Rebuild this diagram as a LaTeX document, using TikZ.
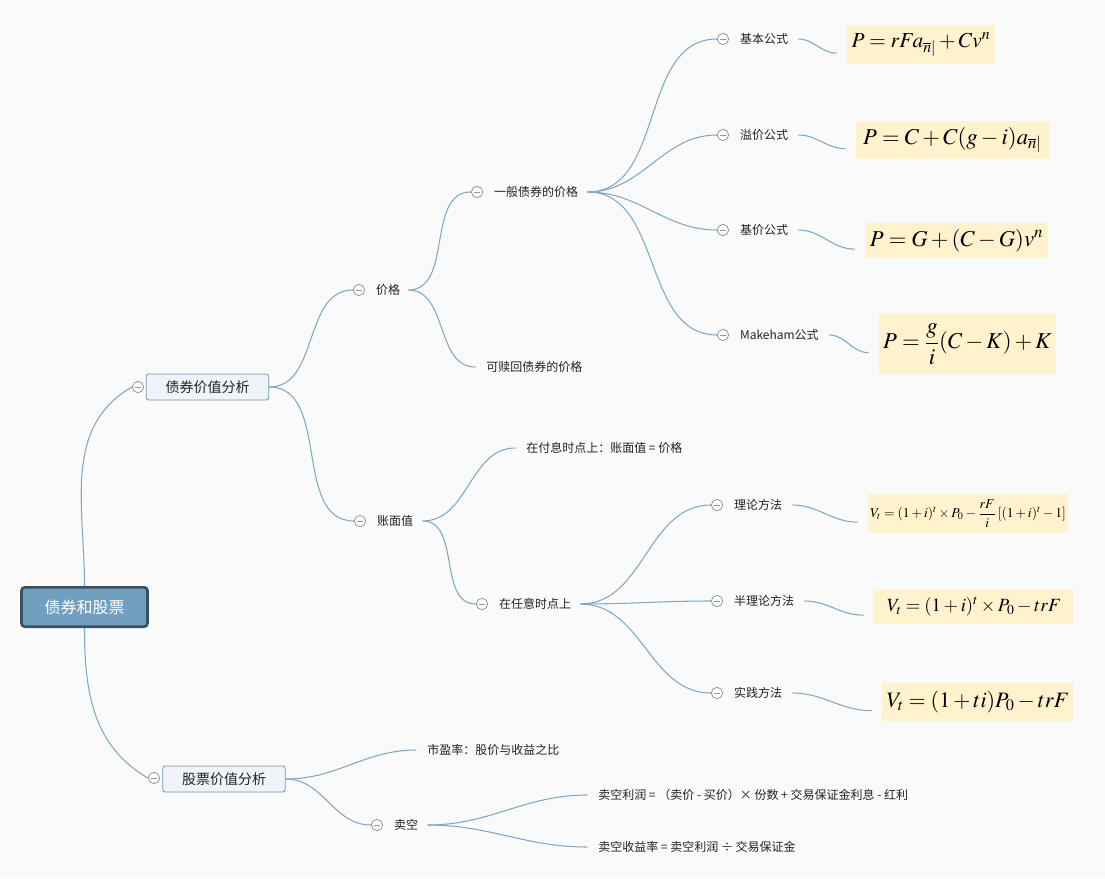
\documentclass[tikz,border=0pt]{standalone}
\usepackage{amsmath}
\usepackage{mathptmx}
\usepackage[no-math]{fontspec}
\newfontfamily\cjk{Noto Sans CJK SC}
\usepackage{tikz}
\usetikzlibrary{positioning}
\definecolor{paper}{RGB}{250,250,250}
\definecolor{linkblue}{RGB}{128,168,200}
\definecolor{rootfill}{RGB}{113,159,191}
\definecolor{rootedge}{RGB}{57,80,96}
\definecolor{topicfill}{RGB}{240,244,248}
\definecolor{topicedge}{RGB}{110,152,186}
\definecolor{formulabg}{RGB}{255,242,204}
\definecolor{inkgrey}{RGB}{34,34,34}
\definecolor{foldgrey}{RGB}{150,150,150}

\begin{document}
\begin{tikzpicture}[x=0.75pt, y=0.75pt,
    root/.style={
      rectangle, rounded corners=2.5pt, draw=rootedge, line width=2pt, fill=rootfill,
      minimum width=94.5pt, minimum height=29.5pt, text=white,
      font=\cjk\fontsize{12}{14}\selectfont
    },
    topic/.style={
      rectangle, rounded corners=2pt, draw=topicedge, line width=0.6pt, fill=topicfill,
      minimum width=92pt, minimum height=19.5pt, text=inkgrey,
      font=\cjk\fontsize{10.5}{12}\selectfont
    },
    fold/.style={
      circle, draw=foldgrey, line width=0.6pt, fill=white, minimum size=8.5pt, inner sep=0pt,
      path picture={\draw[foldgrey, line width=0.6pt]
        ([xshift=-2.6pt]path picture bounding box.center) -- ([xshift=2.6pt]path picture bounding box.center);}
    },
    leaf/.style={anchor=west, inner sep=0pt, text=inkgrey, font=\cjk\fontsize{9}{11}\selectfont},
    formula/.style={rectangle, fill=formulabg, inner sep=0pt, text=black, font=\fontsize{17}{20}\selectfont},
    link/.style={draw=linkblue, line width=0.8pt, out=0, in=180}
  ]
    \path[use as bounding box, fill=paper] (0,0) rectangle (1105,-878);

    % root and main topics
    \node[root] (root) at (84.5,-607) {债券和股票};
    \node[fold] (f-bond) at (138,-387) {};
    \node[topic] (bond) at (207.5,-387) {债券价值分析};
    \node[fold] (f-stock) at (154,-778) {};
    \node[topic] (stock) at (224,-779) {股票价值分析};
    \draw[link, out=90, in=210] (root.north) to (f-bond.west);
    \draw[link, out=-90, in=150] (root.south) to (f-stock.west);

    % bonds
    \node[fold] (f-price) at (359,-290) {};
    \node[leaf, right=8pt of f-price] (price) {价格};
    \node[fold] (f-book) at (360,-521) {};
    \node[leaf, right=8pt of f-book] (book) {账面值};
    \draw[link] (bond.east) to (f-price.west);
    \draw[link] (bond.east) to (f-book.west);

    \node[fold] (f-general) at (477,-192) {};
    \node[leaf, right=8pt of f-general] (general) {一般债券的价格};
    \node[leaf] (callable) at (486,-367) {可赎回债券的价格};
    \draw[link] ([xshift=6pt]price.east) to (f-general.west);
    \draw[link] ([xshift=6pt]price.east) to ([xshift=-8pt]callable.west);

    \node[leaf] (coupon) at (526,-448) {在付息时点上：账面值 = 价格};
    \node[fold] (f-anytime) at (482,-604) {};
    \node[leaf, right=8pt of f-anytime] (anytime) {在任意时点上};
    \draw[link] ([xshift=7pt]book.east) to ([xshift=-8pt]coupon.west);
    \draw[link] ([xshift=7pt]book.east) to (f-anytime.west);

    % price formulas
    \node[fold] (f-basic) at (723,-39) {};
    \node[leaf, right=8pt of f-basic] (basic) {基本公式};
    \node[fold] (f-premium) at (723,-135) {};
    \node[leaf, right=8pt of f-premium] (premium) {溢价公式};
    \node[fold] (f-base) at (723,-230) {};
    \node[leaf, right=8pt of f-base] (base) {基价公式};
    \node[fold] (f-makeham) at (723,-335) {};
    \node[leaf, right=8pt of f-makeham] (makeham) {Makeham公式};
    \draw[link] ([xshift=7pt]general.east) to (f-basic.west);
    \draw[link] ([xshift=7pt]general.east) to (f-premium.west);
    \draw[link] ([xshift=7pt]general.east) to (f-base.west);
    \draw[link] ([xshift=7pt]general.east) to (f-makeham.west);

    \node[formula, minimum width=111pt, minimum height=29pt, font=\fontsize{16}{19}\selectfont] (eq-basic) at (921,-44.5)
      {$P=rFa_{\overline{n}|}+Cv^n$};
    \node[formula, minimum width=145pt, minimum height=28.5pt] (eq-premium) at (952.5,-140)
      {$P=C+C(g-i)a_{\overline{n}|}$};
    \node[formula, minimum width=137pt, minimum height=26.25pt] (eq-base) at (956.5,-240.5)
      {$P=G+(C-G)v^n$};
    \node[formula, minimum width=133pt, minimum height=45pt] (eq-makeham) at (967.5,-344)
      {$P=\dfrac{g}{i}(C-K)+K$};
    \draw[link] ([xshift=7.5pt]basic.east) to ([xshift=-7.5pt,yshift=-6.5pt]eq-basic.west);
    \draw[link] ([xshift=7.5pt]premium.east) to ([xshift=-7.5pt,yshift=-6.5pt]eq-premium.west);
    \draw[link] ([xshift=7.5pt]base.east) to ([xshift=-7.5pt,yshift=-6.5pt]eq-base.west);
    \draw[link] ([xshift=7.5pt]makeham.east) to ([xshift=-7.5pt,yshift=-6.5pt]eq-makeham.west);

    % book value methods
    \node[fold] (f-theory) at (717,-505) {};
    \node[leaf, right=8pt of f-theory] (theory) {理论方法};
    \node[fold] (f-semi) at (717,-601) {};
    \node[leaf, right=8pt of f-semi] (semi) {半理论方法};
    \node[fold] (f-practice) at (717,-693) {};
    \node[leaf, right=8pt of f-practice] (practice) {实践方法};
    \draw[link] ([xshift=7pt]anytime.east) to (f-theory.west);
    \draw[link] ([xshift=7pt]anytime.east) to (f-semi.west);
    \draw[link] ([xshift=7pt]anytime.east) to (f-practice.west);

    \node[formula, minimum width=150pt, minimum height=29pt, font=\fontsize{10.2}{12}\selectfont] (eq-theory) at (968,-513.5)
      {$V_t=(1+i)^t\times P_0-\dfrac{rF}{i}\left[(1+i)^t-1\right]$};
    \node[formula, minimum width=150pt, minimum height=26.25pt, font=\fontsize{14}{17}\selectfont] (eq-semi) at (974,-606.5)
      {$V_t=(1+i)^t\times P_0-trF$};
    \node[formula, minimum width=144pt, minimum height=28.5pt, font=\fontsize{16.5}{19}\selectfont] (eq-practice) at (978,-702)
      {$V_t=(1+ti)P_0-trF$};
    \draw[link] ([xshift=7.5pt]theory.east) to ([xshift=-7.5pt,yshift=-6.5pt]eq-theory.west);
    \draw[link] ([xshift=7.5pt]semi.east) to ([xshift=-7.5pt,yshift=-6.5pt]eq-semi.west);
    \draw[link] ([xshift=7.5pt]practice.east) to ([xshift=-7.5pt,yshift=-6.5pt]eq-practice.west);

    % stocks
    \node[leaf] (pe) at (427,-750) {市盈率：股价与收益之比};
    \node[fold] (f-short) at (377,-825) {};
    \node[leaf, right=8pt of f-short] (short) {卖空};
    \draw[link] (stock.east) to ([xshift=-8pt]pe.west);
    \draw[link] (stock.east) to (f-short.west);

    \node[leaf] (profit) at (598,-795) {卖空利润 = （卖价 - 买价）× 份数 + 交易保证金利息 - 红利};
    \node[leaf] (yield) at (598,-847) {卖空收益率 = 卖空利润 ÷ 交易保证金};
    \draw[link] ([xshift=7pt]short.east) to ([xshift=-8pt]profit.west);
    \draw[link] ([xshift=7pt]short.east) to ([xshift=-8pt]yield.west);
  \end{tikzpicture}
\end{document}
